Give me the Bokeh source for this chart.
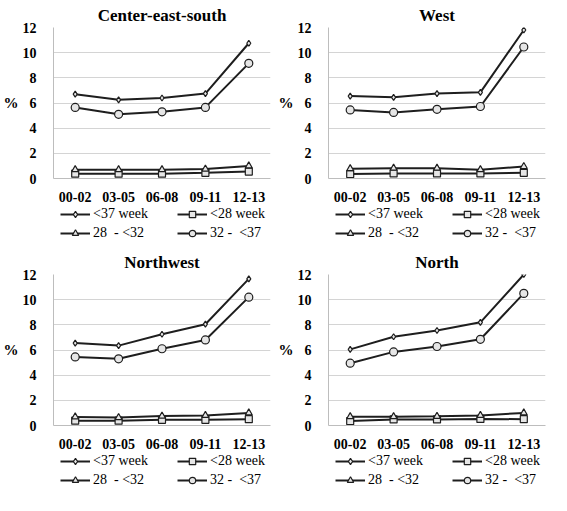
from bokeh.plotting import figure
from bokeh.layouts import gridplot
from bokeh.models import FactorRange, Range1d, FixedTicker, Legend, LegendItem
from bokeh.embed import file_html
from bokeh.resources import INLINE

periods = ["00-02", "03-05", "06-08", "09-11", "12-13"]
series_names = ["<37 week", "<28 week", "28  - <32", "32 -  <37"]

regions = ["Center-east-south", "West", "Northwest", "North"]

ces_lt37 = [6.7, 6.25, 6.4, 6.75, 10.75]
ces_lt28 = [0.38, 0.38, 0.38, 0.45, 0.55]
ces_28_32 = [0.7, 0.7, 0.7, 0.75, 1.0]
ces_32_37 = [5.65, 5.1, 5.3, 5.65, 9.15]

west_lt37 = [6.55, 6.45, 6.75, 6.85, 11.8]
west_lt28 = [0.35, 0.4, 0.4, 0.4, 0.45]
west_28_32 = [0.78, 0.82, 0.82, 0.7, 0.95]
west_32_37 = [5.45, 5.25, 5.5, 5.72, 10.45]

nw_lt37 = [6.55, 6.35, 7.25, 8.05, 11.65]
nw_lt28 = [0.38, 0.38, 0.45, 0.45, 0.5]
nw_28_32 = [0.68, 0.63, 0.75, 0.8, 1.0]
nw_32_37 = [5.45, 5.3, 6.1, 6.8, 10.2]

north_lt37 = [6.05, 7.05, 7.55, 8.2, 12.0]
north_lt28 = [0.35, 0.48, 0.48, 0.52, 0.5]
north_28_32 = [0.7, 0.7, 0.73, 0.8, 1.0]
north_32_37 = [4.95, 5.85, 6.28, 6.85, 10.5]

region_data = [
    (ces_lt37, ces_lt28, ces_28_32, ces_32_37),
    (west_lt37, west_lt28, west_28_32, west_32_37),
    (nw_lt37, nw_lt28, nw_28_32, nw_32_37),
    (north_lt37, north_lt28, north_28_32, north_32_37),
]

y_ticks = [0, 2, 4, 6, 8, 10, 12]

SERIF = "Liberation Serif"
LINE = "#1e1e1e"
MFILL = "#e6e6e6"
markers = ["diamond", "square", "triangle", "circle"]
msizes = [6, 7, 7, 8]

W = 275
PLOT_H = 204
LEG_H = 43


def style_legend(leg):
    leg.border_line_color = None
    leg.background_fill_alpha = 0
    leg.label_text_font = SERIF
    leg.label_text_font_size = "14px"
    leg.label_text_color = "black"
    leg.glyph_width = 30
    leg.glyph_height = 16
    leg.label_height = 16
    leg.label_standoff = 3
    leg.label_width = 79
    leg.spacing = 5
    leg.padding = 0
    leg.margin = 0


def make_panel(title, data):
    p = figure(x_range=FactorRange(*periods, range_padding=0),
               y_range=Range1d(0, 12),
               width=W, height=PLOT_H, output_backend="svg",
               toolbar_location=None, title=title,
               min_border_left=30, min_border_right=5,
               min_border_top=27, min_border_bottom=24)
    p.outline_line_color = None
    p.title.align = "center"
    p.title.text_font = SERIF
    p.title.text_font_size = "17px"
    p.title.text_font_style = "bold"
    p.title.text_color = "black"
    p.title.standoff = 6

    p.xgrid.grid_line_color = None
    p.ygrid.grid_line_color = "#d4d4d4"
    p.yaxis.ticker = FixedTicker(ticks=y_ticks)

    for ax in (p.xaxis, p.yaxis):
        ax.axis_line_color = "#bdbdbd"
        ax.major_tick_line_color = None
        ax.minor_tick_line_color = None
        ax.major_label_text_font = SERIF
        ax.major_label_text_font_size = "14px"
        ax.major_label_text_font_style = "bold"
        ax.major_label_text_color = "black"
    p.xaxis.major_label_standoff = 7
    p.yaxis.major_label_standoff = 11
    p.yaxis.axis_label = "%"
    p.yaxis.axis_label_orientation = "horizontal"
    p.yaxis.axis_label_text_font = SERIF
    p.yaxis.axis_label_text_font_size = "15px"
    p.yaxis.axis_label_text_font_style = "bold"
    p.yaxis.axis_label_text_color = "black"
    p.yaxis.axis_label_standoff = 1

    for vals, mk, ms in zip(data, markers, msizes):
        p.line(periods, vals, line_color=LINE, line_width=2)
        p.scatter(periods, vals, marker=mk, size=ms,
                  fill_color=MFILL, line_color=LINE, line_width=1.2)

    # legend strip below the chart (sample glyphs lie outside its view)
    lf = figure(width=W, height=LEG_H, output_backend="svg",
                toolbar_location=None, x_range=Range1d(0, 1),
                y_range=Range1d(0, 1), min_border=0)
    lf.axis.visible = False
    lf.grid.visible = False
    lf.outline_line_color = None
    items = []
    for name, mk, ms in zip(series_names, markers, msizes):
        l = lf.line(x=[-5, -4], y=[-5, -5], line_color=LINE, line_width=2)
        s = lf.scatter(x=[-5], y=[-5], marker=mk, size=ms,
                       fill_color=MFILL, line_color=LINE, line_width=1.2)
        items.append(LegendItem(label=name, renderers=[l, s]))
    leg1 = Legend(items=[items[0], items[1]], orientation="horizontal",
                  location=(7, 25))
    leg2 = Legend(items=[items[2], items[3]], orientation="horizontal",
                  location=(7, 6))
    style_legend(leg1)
    style_legend(leg2)
    lf.add_layout(leg1)
    lf.add_layout(leg2)
    return p, lf


built = [make_panel(t, d) for t, d in zip(regions, region_data)]
grid = gridplot([[built[0][0], built[1][0]],
                 [built[0][1], built[1][1]],
                 [built[2][0], built[3][0]],
                 [built[2][1], built[3][1]]],
                toolbar_location=None)

open("out.html", "w").write(file_html(grid, INLINE))
